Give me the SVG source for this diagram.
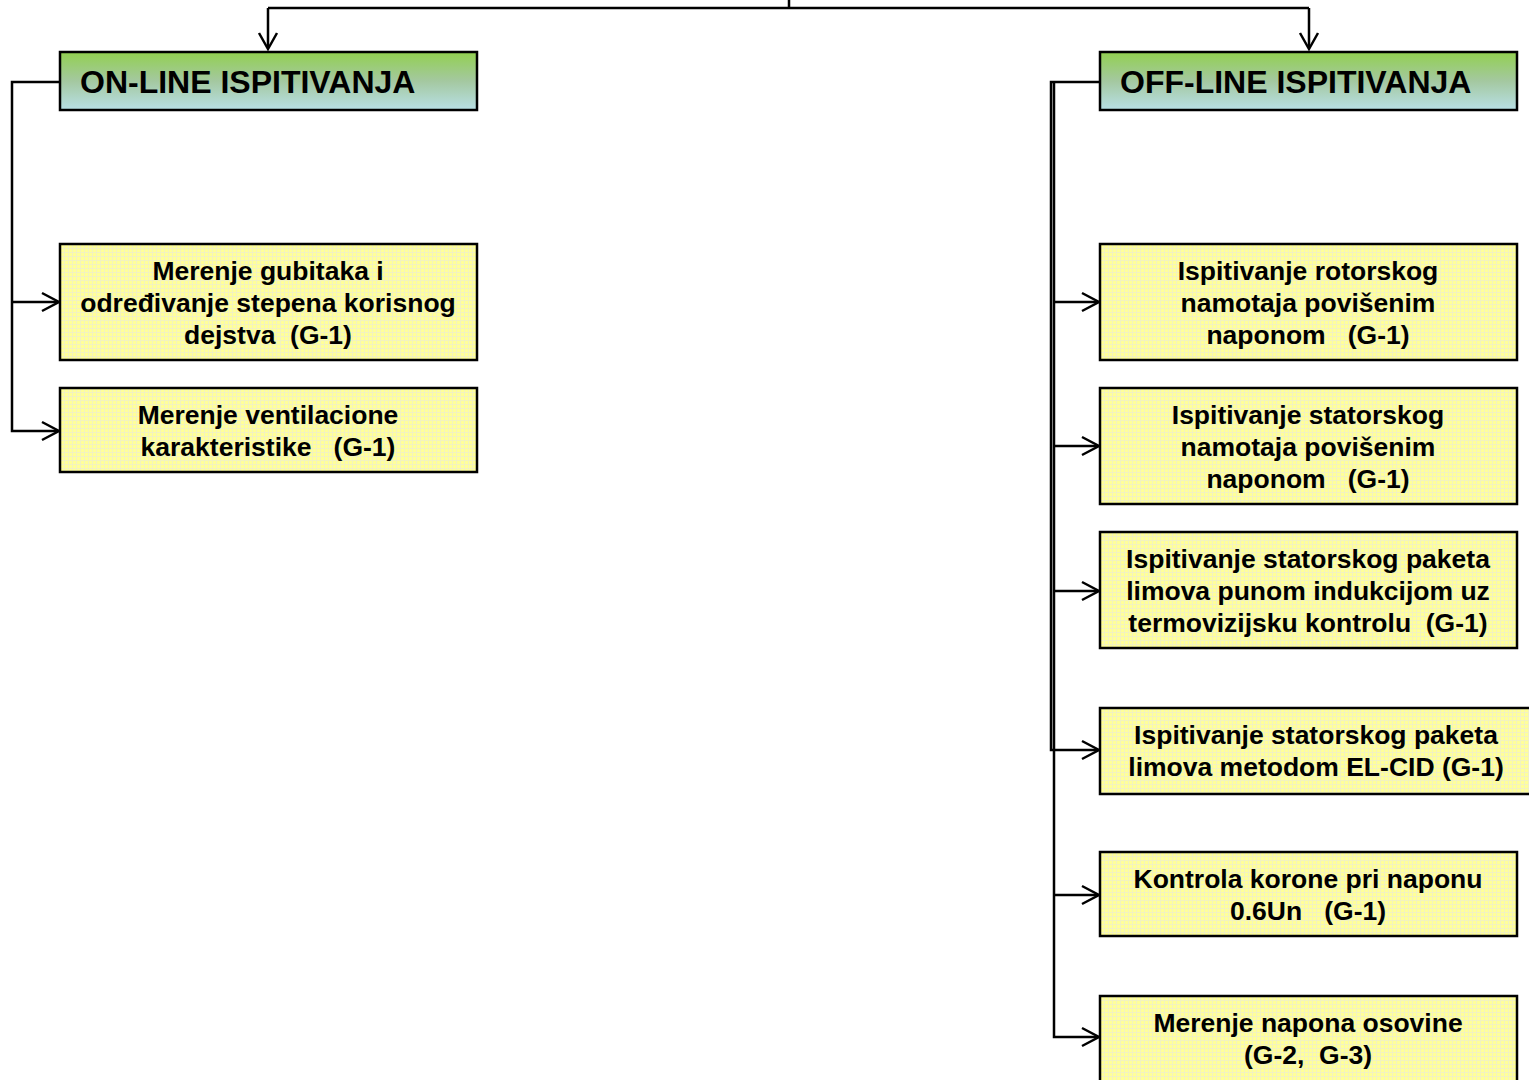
<svg xmlns="http://www.w3.org/2000/svg" width="1529" height="1080" viewBox="0 0 1529 1080">
<style>
.hdr{stroke:#000;stroke-width:2.5;fill:url(#hg)}
.box{stroke:#000;stroke-width:2.5;fill:url(#yp)}
.ht{font-family:"Liberation Sans",Arial,sans-serif;font-weight:bold;font-size:32px;fill:#000}
.bt{font-family:"Liberation Sans",Arial,sans-serif;font-weight:bold;font-size:26.5px;fill:#000;text-anchor:middle}
.ln{stroke:#000;stroke-width:2.5;fill:none}
.ar{stroke:#000;stroke-width:2.5;fill:none;stroke-linejoin:miter}
</style>
<defs>
<linearGradient id="hg" x1="0" y1="0" x2="0" y2="1">
<stop offset="0" stop-color="#92d050"/>
<stop offset="0.5" stop-color="#a4c8a0"/>
<stop offset="1" stop-color="#b8e0e6"/>
</linearGradient>
<pattern id="yp" width="4" height="4" patternUnits="userSpaceOnUse">
<rect width="4" height="4" fill="#ffff99"/>
<path d="M0 0.5H4M0.5 0V4" stroke="#f2f2c0" stroke-width="1"/>
</pattern>
</defs>
<g id="connectors">
<path class="ln" d="M789 0V8M268 8H1309M268 8V48M1309 8V48"/>
<path class="ar" d="M259 33L268 49L277 33M1300 33L1309 49L1318 33"/>
<path class="ln" d="M60 82H12V431H58M12 302H58"/>
<path class="ar" d="M42 293L59 302L42 311M42 422L59 431L42 440"/>
<path class="ln" d="M1100 82H1051V750H1098M1054 82V1037H1098M1054 302H1098M1054 446H1098M1054 591H1098M1054 895H1098"/>
<path class="ar" d="M1082 293L1099 302L1082 311M1082 437L1099 446L1082 455M1082 582L1099 591L1082 600M1082 741L1099 750L1082 759M1082 886L1099 895L1082 904M1082 1028L1099 1037L1082 1046"/>
</g>
<g id="on-line">
<rect class="hdr" x="60" y="52" width="417" height="58"/>
<text class="ht" x="80" y="93">ON-LINE ISPITIVANJA</text>
</g>
<g id="off-line">
<rect class="hdr" x="1100" y="52" width="417" height="58"/>
<text class="ht" x="1120" y="93">OFF-LINE ISPITIVANJA</text>
</g>
<g id="on1">
<rect class="box" x="60" y="244" width="417" height="116"/>
<text class="bt" x="268" y="280">Merenje gubitaka i</text>
<text class="bt" x="268" y="312">određivanje stepena korisnog</text>
<text class="bt" x="268" y="344" xml:space="preserve">dejstva  (G-1)</text>
</g>
<g id="on2">
<rect class="box" x="60" y="388" width="417" height="84"/>
<text class="bt" x="268" y="424">Merenje ventilacione</text>
<text class="bt" x="268" y="456" xml:space="preserve">karakteristike   (G-1)</text>
</g>
<g id="off1">
<rect class="box" x="1100" y="244" width="417" height="116"/>
<text class="bt" x="1308" y="280">Ispitivanje rotorskog</text>
<text class="bt" x="1308" y="312">namotaja povišenim</text>
<text class="bt" x="1308" y="344" xml:space="preserve">naponom   (G-1)</text>
</g>
<g id="off2">
<rect class="box" x="1100" y="388" width="417" height="116"/>
<text class="bt" x="1308" y="424">Ispitivanje statorskog</text>
<text class="bt" x="1308" y="456">namotaja povišenim</text>
<text class="bt" x="1308" y="488" xml:space="preserve">naponom   (G-1)</text>
</g>
<g id="off3">
<rect class="box" x="1100" y="532" width="417" height="116"/>
<text class="bt" x="1308" y="568">Ispitivanje statorskog paketa</text>
<text class="bt" x="1308" y="600">limova punom indukcijom uz</text>
<text class="bt" x="1308" y="632" xml:space="preserve">termovizijsku kontrolu  (G-1)</text>
</g>
<g id="off4">
<rect class="box" x="1100" y="708" width="432" height="86"/>
<text class="bt" x="1316" y="744">Ispitivanje statorskog paketa</text>
<text class="bt" x="1316" y="776">limova metodom EL-CID (G-1)</text>
</g>
<g id="off5">
<rect class="box" x="1100" y="852" width="417" height="84"/>
<text class="bt" x="1308" y="888">Kontrola korone pri naponu</text>
<text class="bt" x="1308" y="920" xml:space="preserve">0.6Un   (G-1)</text>
</g>
<g id="off6">
<rect class="box" x="1100" y="996" width="417" height="86"/>
<text class="bt" x="1308" y="1032">Merenje napona osovine</text>
<text class="bt" x="1308" y="1064" xml:space="preserve">(G-2,  G-3)</text>
</g>
</svg>
